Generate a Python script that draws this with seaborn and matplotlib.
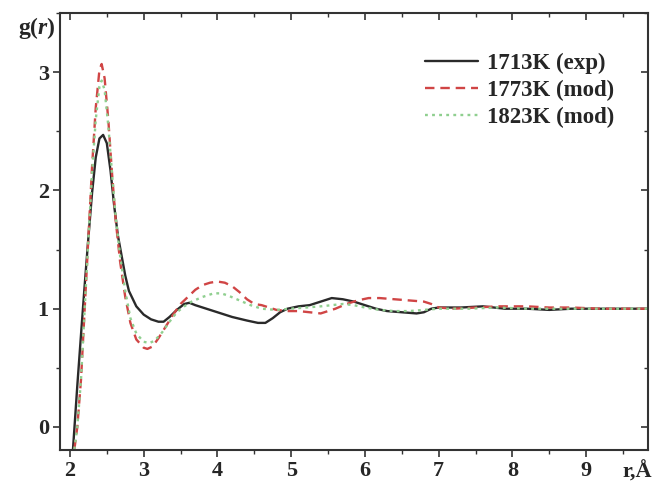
import numpy as np
import pandas as pd
import matplotlib
matplotlib.use("Agg")
import matplotlib.pyplot as plt
from matplotlib.ticker import MultipleLocator
import seaborn as sns

# ---- data ----
r_exp = [2.04, 2.10, 2.15, 2.20, 2.25, 2.30, 2.35, 2.40, 2.45, 2.50, 2.55, 2.60, 2.65, 2.70,
         2.75, 2.80, 2.90, 3.00, 3.10, 3.20, 3.27, 3.35, 3.45, 3.55, 3.62, 3.70, 3.85, 4.00,
         4.20, 4.40, 4.55, 4.65, 4.75, 4.85, 4.95, 5.10, 5.25, 5.40, 5.55, 5.70, 5.85, 6.00,
         6.15, 6.30, 6.50, 6.70, 6.80, 6.90, 7.00, 7.30, 7.60, 7.90, 8.20, 8.50, 8.80, 9.10,
         9.50, 9.84]
g_exp = [-0.20, 0.35, 0.78, 1.20, 1.60, 1.98, 2.28, 2.44, 2.47, 2.40, 2.17, 1.87, 1.62, 1.45,
         1.28, 1.15, 1.02, 0.95, 0.91, 0.89, 0.89, 0.93, 0.99, 1.04, 1.05, 1.03, 1.00, 0.97,
         0.93, 0.90, 0.88, 0.88, 0.92, 0.97, 1.00, 1.02, 1.03, 1.06, 1.09, 1.08, 1.06, 1.03,
         1.00, 0.98, 0.97, 0.96, 0.97, 1.00, 1.01, 1.01, 1.02, 1.00, 1.00, 0.99, 1.00, 1.00,
         1.00, 1.00]

r_1773 = [2.06, 2.10, 2.15, 2.20, 2.25, 2.30, 2.35, 2.40, 2.43, 2.47, 2.52, 2.57, 2.62, 2.68,
          2.75, 2.82, 2.90, 3.00, 3.05, 3.12, 3.20, 3.30, 3.40, 3.50, 3.60, 3.70, 3.80, 3.90,
          4.00, 4.10, 4.20, 4.30, 4.40, 4.50, 4.60, 4.70, 4.80, 4.95, 5.10, 5.25, 5.40, 5.50,
          5.60, 5.75, 5.90, 6.05, 6.20, 6.40, 6.60, 6.80, 6.90, 7.00, 7.20, 7.50, 7.80, 8.00,
          8.20, 8.50, 8.80, 9.20, 9.84]
g_1773 = [-0.19, 0.00, 0.40, 1.00, 1.60, 2.20, 2.70, 3.02, 3.07, 2.95, 2.60, 2.15, 1.75, 1.40,
          1.10, 0.88, 0.74, 0.67, 0.66, 0.68, 0.75, 0.85, 0.95, 1.04, 1.10, 1.16, 1.20, 1.22,
          1.23, 1.22, 1.19, 1.14, 1.08, 1.04, 1.03, 1.01, 0.99, 0.98, 0.98, 0.97, 0.96, 0.98,
          1.00, 1.04, 1.07, 1.09, 1.09, 1.08, 1.07, 1.06, 1.04, 1.01, 1.00, 1.01, 1.02, 1.02,
          1.02, 1.01, 1.01, 1.00, 1.00]

r_1823 = [2.06, 2.10, 2.15, 2.20, 2.25, 2.30, 2.35, 2.40, 2.43, 2.47, 2.52, 2.57, 2.62, 2.68,
          2.75, 2.82, 2.90, 3.00, 3.08, 3.15, 3.25, 3.35, 3.45, 3.55, 3.65, 3.80, 3.95, 4.05,
          4.15, 4.30, 4.45, 4.60, 4.80, 5.00, 5.20, 5.40, 5.55, 5.70, 5.85, 6.00, 6.20, 6.40,
          6.60, 6.80, 7.00, 7.40, 7.80, 8.20, 8.60, 9.20, 9.84]
g_1823 = [-0.19, 0.00, 0.40, 1.00, 1.58, 2.15, 2.60, 2.88, 2.93, 2.85, 2.55, 2.15, 1.78, 1.45,
          1.15, 0.92, 0.79, 0.72, 0.71, 0.73, 0.80, 0.89, 0.97, 1.02, 1.06, 1.10, 1.13, 1.13,
          1.11, 1.07, 1.03, 1.00, 0.99, 1.00, 1.01, 1.02, 1.03, 1.04, 1.03, 1.01, 0.99, 0.98,
          0.98, 0.99, 1.00, 1.00, 1.01, 1.00, 1.00, 1.00, 1.00]

labels = ["1713K (exp)", "1773K (mod)", "1823K (mod)"]
x_ticks = [2, 3, 4, 5, 6, 7, 8, 9]
y_ticks = [0, 1, 2, 3]

# ---- styling ----
sns.set_theme(style="ticks")
plt.rcParams["font.family"] = ["Liberation Serif", "DejaVu Serif"]
plt.rcParams["font.weight"] = "bold"
plt.rcParams["mathtext.fontset"] = "custom"
plt.rcParams["mathtext.rm"] = "Liberation Serif:bold"
plt.rcParams["mathtext.it"] = "Liberation Serif:bold:italic"

fig = plt.figure(figsize=(6.52, 4.87), dpi=100)
ax = fig.add_axes([0.092, 0.076, 0.902, 0.897])

series = [(r_exp, g_exp, labels[0], "#2a2a2a", "-", 1.7),
          (r_1773, g_1773, labels[1], "#d04545", (0, (4, 2.5)), 1.7),
          (r_1823, g_1823, labels[2], "#8fcf8f", (0, (1.2, 1.8)), 1.7)]
for rr, gg, lab, col, ls, lw in series:
    df = pd.DataFrame({"r": rr, "g": gg})
    sns.lineplot(data=df, x="r", y="g", ax=ax, color=col, linestyle=ls,
                 linewidth=lw, label=lab, estimator=None, sort=False)

ax.set_xlim(1.865, 9.84)
ax.set_ylim(-0.195, 3.5)
ax.set_xticks(x_ticks)
ax.set_yticks(y_ticks)
ax.xaxis.set_minor_locator(MultipleLocator(0.5))
ax.yaxis.set_minor_locator(MultipleLocator(0.5))
ax.set_xlabel("")
ax.set_ylabel("")

for s in ax.spines.values():
    s.set_visible(True)
    s.set_linewidth(1.5)
    s.set_color("#333333")

ax.tick_params(axis="both", which="major", direction="out", length=5, width=1.2,
               color="#333333", labelsize=16, pad=3, top=False, right=False)
ax.tick_params(axis="both", which="minor", direction="out", length=3, width=1.0,
               color="#333333", top=False, right=False)
for lab in ax.get_xticklabels() + ax.get_yticklabels():
    lab.set_fontweight("bold")

# mirrored inward ticks on top and right
axt = ax.secondary_xaxis("top")
axt.set_xticks(x_ticks)
axt.xaxis.set_minor_locator(MultipleLocator(0.5))
axt.tick_params(which="major", direction="in", length=5, width=1.2, labeltop=False, color="#333333")
axt.tick_params(which="minor", direction="in", length=3, width=1.0, color="#333333")
axt.set_xticklabels([])
axr = ax.secondary_yaxis("right")
axr.set_yticks(y_ticks)
axr.yaxis.set_minor_locator(MultipleLocator(0.5))
axr.tick_params(which="major", direction="in", length=5, width=1.2, labelright=False, color="#333333")
axr.tick_params(which="minor", direction="in", length=3, width=1.0, color="#333333")
axr.set_yticklabels([])

fig.text(0.057, 0.943, r"$\mathrm{g(}r\mathrm{)}$", fontsize=17, ha="center", va="center")
ax.text(0.956, -0.05, "r,Å", transform=ax.transAxes, fontsize=16, fontweight="bold",
        ha="left", va="center", clip_on=False)

leg = ax.legend(loc="upper right", bbox_to_anchor=(0.962, 0.935), frameon=False,
                handlelength=2.3, handletextpad=0.4, labelspacing=0.25, borderpad=0,
                prop={"family": "Liberation Serif", "weight": "bold", "size": 16.5})

fig.savefig("out.png", dpi=100)
